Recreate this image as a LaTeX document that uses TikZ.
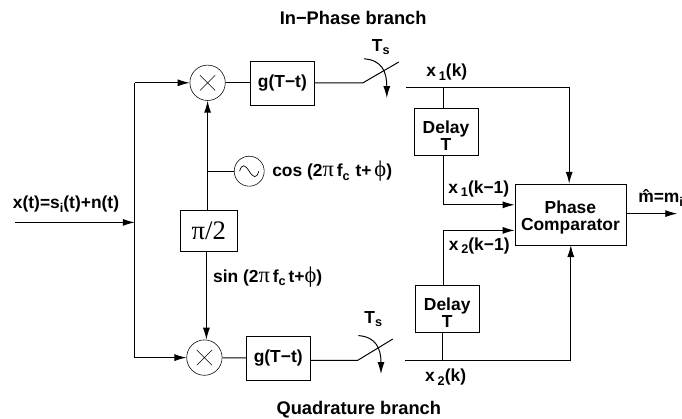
\documentclass[tikz,border=0pt]{standalone}
\usepackage{fontspec}
\setmainfont{Liberation Sans}
\newfontfamily\symb{Liberation Serif}
\usepackage{tikz}
\usetikzlibrary{arrows.meta, positioning, calc}
\newcommand{\subs}[1]{\raisebox{-.4ex}{\fontsize{9}{9}\selectfont #1}}
\newcommand{\bigsym}[1]{{\fontsize{16}{16}\selectfont\symb\mdseries #1}}

\begin{document}
\begin{tikzpicture}[
    blockbox/.style={rectangle, draw, inner sep=0pt, align=center},
    mixer/.style={circle, draw, minimum size=0.885cm, inner sep=0pt},
    osc/.style={circle, draw, minimum size=0.75cm, inner sep=0pt},
    sig/.style={line width=0.7pt},
    sigarrow/.style={sig, -{Latex[length=8.5pt,width=5pt]}},
    lbl/.style={font=\fontsize{12.4}{12}\selectfont\bfseries, inner sep=0pt},
    title/.style={font=\fontsize{13}{13}\selectfont\bfseries, inner sep=0pt}
]
    \useasboundingbox (0,0) rectangle (17.05,-10.475);

    \node[title] (intitle) at (8.83,-0.44) {In−Phase branch};
    \node[title] (qtitle) at (8.97,-10.24) {Quadrature branch};

    % in-phase branch
    \node[mixer] (m1) at (5.19,-2.07) {};
    \draw[line width=0.4pt] (m1.center) ++(-.19,-.19) -- ++(.38,.38) ++(-.38,0) -- ++(.38,-.38);
    \node[blockbox, lbl, minimum width=1.6cm, minimum height=1.1cm] (g1) at (7.06,-2.07) {g(T−t)};
    \node[osc] (lo) at (6.23,-4.28) {};
    \draw[line width=0.5pt] ($(lo.center)+(-.24,0)$) .. controls +(.06,.2) and +(-.1,.16) .. (lo.center) .. controls +(.1,-.16) and +(-.06,-.2) .. ($(lo.center)+(.24,0)$);
    \node[lbl, anchor=west] (coslbl) at (6.8,-4.28) {cos (2\bigsym{π}\,f\subs{c}\,\,t+\,\bigsym{ϕ})};
    \node[blockbox, minimum width=1.42cm, minimum height=1.03cm, font=\fontsize{19}{19}\selectfont\symb] (shift) at (5.22,-5.77) {π/2};

    % quadrature branch
    \node[mixer] (m2) at (5.11,-8.94) {};
    \draw[line width=0.4pt] (m2.center) ++(-.19,-.19) -- ++(.38,.38) ++(-.38,0) -- ++(.38,-.38);
    \node[blockbox, lbl, minimum width=1.6cm, minimum height=1.1cm] (g2) at (6.955,-8.955) {g(T−t)};
    \node[lbl, anchor=west] (sinlbl) at (5.32,-6.92) {sin (2\bigsym{π}\,f\subs{c}\,t+\bigsym{ϕ})};

    % delays and comparator
    \node[blockbox, lbl, minimum width=1.6cm, minimum height=1.185cm] (delay1) at (11.15,-3.3) {\rule{0pt}{14pt}Delay\\T};
    \node[blockbox, lbl, minimum width=1.6cm, minimum height=1.185cm] (delay2) at (11.18,-7.72) {\rule{0pt}{14pt}Delay\\T};
    \node[blockbox, lbl, minimum width=2.775cm, minimum height=1.52cm] (comp) at (14.26,-5.36) {\rule{0pt}{13pt}Phase\\Comparator};

    \coordinate (input) at (0.37,-5.56);
    \coordinate (split) at (3.37,-5.56);
    \coordinate (out) at (16.93,-5.34);
    \coordinate (s1a) at (9.075,-2.07);
    \coordinate (s1b) at (9.97,-1.55);
    \coordinate (s1c) at (10.14,-2.175);
    \coordinate (j1) at (11.09,-2.175);
    \coordinate (c1t) at (14.23,-2.175);
    \coordinate (c1) at (11.09,-5.12);
    \coordinate (s2a) at (8.94,-9.01);
    \coordinate (s2b) at (9.82,-8.475);
    \coordinate (s2c) at (10.125,-9.02);
    \coordinate (j2) at (11.07,-9.02);
    \coordinate (c2b) at (14.27,-9.02);
    \coordinate (c2) at (11.09,-5.76);
    \coordinate (a1) at (9.1,-1.47);
    \coordinate (b1) at (9.67,-2.45);
    \coordinate (a2) at (8.96,-8.39);
    \coordinate (b2) at (9.525,-9.35);

    \draw[sigarrow] (input) -- (split);
    \draw[sigarrow] (split |- m1) -- (m1);
    \draw[sigarrow] (split |- m2) -- (m2);
    \draw[sig] (split |- m1) -- (split |- m2);
    \draw[sigarrow] (shift.north -| m1) -- (m1);
    \draw[sig] (m1 |- lo) -- (lo);
    \draw[sigarrow] (shift.south -| m2.north) ++(.05,0) -- ($(m2.north)+(.05,0)$);
    \draw[sig] (m1) -- (g1);
    \draw[sig] (m2) -- (g2);
    \draw[sig] (g1) -- (s1a) -- (s1b);
    \draw[sig] (g2.east |- s2a) -- (s2a) -- (s2b);
    \draw[sigarrow] (a1) .. controls (9.55,-1.5) and (9.67,-1.8) .. (b1);
    \draw[sigarrow] (a2) .. controls (9.4,-8.42) and (9.525,-8.72) .. (b2);
    \draw[sigarrow] (s1c) -- (c1t) -- (comp.north -| c1t);
    \draw[sig] (j1) -- (delay1.north -| j1);
    \draw[sigarrow] (delay1.south -| c1) -- (c1) -- (c1 -| comp.west);
    \draw[sigarrow] (delay2.north -| c2) -- (c2) -- (c2 -| comp.west);
    \draw[sig] (delay2.south -| j2) -- (j2);
    \draw[sigarrow] (s2c) -- (c2b) -- (comp.south -| c2b);
    \draw[sigarrow] (comp.east |- out) -- (out);

    \node[lbl] (inlbl) at (1.65,-5.1) {x(t)=s\subs{i}(t)+n(t)};
    \node[lbl] (ts1) at (9.52,-1.18) {T\subs{s}};
    \node[lbl] (ts2) at (9.33,-7.98) {T\subs{s}};
    \node[lbl] (x1k) at (11.17,-1.8) {x\,\subs{1}(k)};
    \node[lbl] (x1d) at (11.97,-4.72) {x\,\subs{1}(k−1)};
    \node[lbl] (x2d) at (11.98,-6.14) {x\,\subs{2}(k−1)};
    \node[lbl] (x2k) at (11.14,-9.43) {x\,\subs{2}(k)};
    \node[lbl, anchor=west] (mlbl) at (15.95,-4.95) {\^{m}=m\subs{i}};
\end{tikzpicture}
\end{document}
